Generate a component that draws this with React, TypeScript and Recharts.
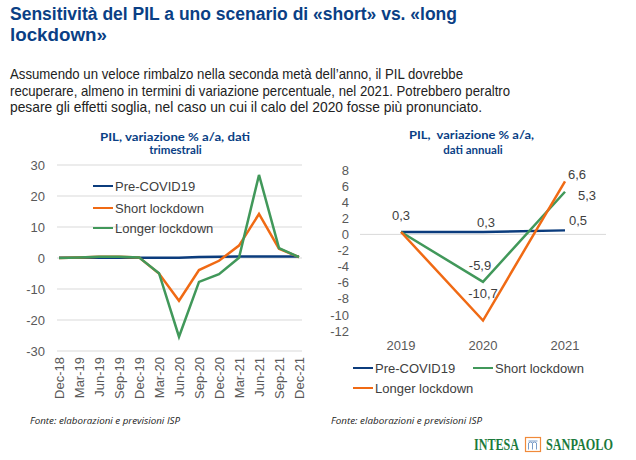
import React from 'react'
import { LineChart, Line, XAxis, YAxis, CartesianGrid, Legend, ReferenceLine, LabelList } from 'recharts'

// dati trimestrali (variazione % a/a)
const quarters = ['Dec-18', 'Mar-19', 'Jun-19', 'Sep-19', 'Dec-19', 'Mar-20', 'Jun-20', 'Sep-20', 'Dec-20', 'Mar-21', 'Jun-21', 'Sep-21', 'Dec-21']
const preCovidQ = [0.1, 0.1, 0.1, 0.1, 0.1, 0.1, 0.1, 0.3, 0.4, 0.5, 0.5, 0.5, 0.5]
const shortQ = [0, 0.2, 0.4, 0.4, 0.2, -5.0, -13.8, -3.9, -0.9, 4.0, 14.2, 3.0, 0.3]
const longerQ = [0, 0.2, 0.4, 0.4, 0.2, -4.9, -25.4, -7.7, -5.2, 0.1, 26.8, 3.2, 0.3]
const quarterTicks = [-30, -20, -10, 0, 10, 20, 30]

// dati annuali
const years = ['2019', '2020', '2021']
const preCovidY = [0.3, 0.3, 0.5]
const shortY = [0.3, -5.9, 5.3]
const longerY = [0.3, -10.7, 6.6]
const yearTicks = [-12, -10, -8, -6, -4, -2, 0, 2, 4, 6, 8]

const NAVY = '#0B3C7D'
const ORANGE = '#F06A14'
const GREEN = '#41985A'
const TITLE = '#0A3F85'
const AXIS_TXT = '#595959'
const FONT = '"Liberation Sans", Arial, sans-serif'

const quarterData = quarters.map((q, i) => ({ q, pre: preCovidQ[i], short: shortQ[i], longer: longerQ[i] }))
const yearData = years.map((y, i) => ({ y, pre: preCovidY[i], short: shortY[i], longer: longerY[i] }))

const RotTick = (props: any) => {
  const { x, y, payload } = props
  return (
    <text x={x} y={y} transform={`rotate(-90 ${x} ${y})`} textAnchor="end" dy="0.36em"
      fill={AXIS_TXT} fontSize={13} fontFamily={FONT}>
      {payload.value}
    </text>
  )
}

type LegItem = { label: string; color: string; x: number; y: number }

const legendBox = (items: LegItem[]) => () => (
  <div style={{ position: 'relative', width: 0, height: 0 }}>
    {items.map((it) => (
      <div key={it.label} style={{ position: 'absolute', left: it.x, top: it.y - 9, height: 18, display: 'flex', alignItems: 'center', whiteSpace: 'nowrap' }}>
        <span style={{ display: 'inline-block', width: 20, height: 2.5, background: it.color, marginRight: 2 }} />
        <span style={{ fontFamily: FONT, fontSize: 13, color: '#404040' }}>{it.label}</span>
      </div>
    ))}
  </div>
)

// spostamenti delle etichette nel grafico annuale
const labelOffsets: Record<string, Record<number, [number, number]>> = {
  pre: { 0: [0, -17], 1: [3, -10], 2: [13, -10] },
  short: { 1: [-3, -17], 2: [22, 4] },
  longer: { 1: [0, -27], 2: [12, -7] },
}

const annualLabel = (key: string) => (props: any) => {
  const { x, y, value, index } = props
  const off = labelOffsets[key][index]
  if (!off) return null
  return (
    <text x={x + off[0]} y={y + off[1]} textAnchor="middle" dy="0.36em" fill="#404040" fontSize={13} fontFamily={FONT}>
      {String(value).replace('.', ',')}
    </text>
  )
}

export default function App() {
  return (
    <div style={{ position: 'absolute', left: 0, top: 0, width: 636, height: 460, background: '#fff', overflow: 'hidden' }}>
      <svg width={636} height={460} style={{ position: 'absolute', left: 0, top: 0 }}>
        <g fontFamily={FONT} fontWeight={700} fill={TITLE} fontSize={18.8}>
          <text x={10} y={19.5} textLength={447} lengthAdjust="spacingAndGlyphs">Sensitività del PIL a uno scenario di «short» vs. «long</text>
          <text x={10} y={40.5} textLength={97} lengthAdjust="spacingAndGlyphs">lockdown»</text>
        </g>
        <g fontFamily={FONT} fill="#222" fontSize={14.5}>
          <text x={10} y={79} textLength={453} lengthAdjust="spacingAndGlyphs">Assumendo un veloce rimbalzo nella seconda metà dell’anno, il PIL dovrebbe</text>
          <text x={10} y={95.5} textLength={500} lengthAdjust="spacingAndGlyphs">recuperare, almeno in termini di variazione percentuale, nel 2021. Potrebbero peraltro</text>
          <text x={10} y={112} textLength={472} lengthAdjust="spacingAndGlyphs">pesare gli effetti soglia, nel caso un cui il calo del 2020 fosse più pronunciato.</text>
        </g>
        <g fontFamily='Lato, sans-serif' fontWeight={700} fill={TITLE} fontSize={11.5} textAnchor="middle">
          <text x={175} y={141} textLength={150} lengthAdjust="spacingAndGlyphs">PIL, variazione % a/a, dati</text>
          <text x={175.5} y={153.5}>trimestrali</text>
          <text x={471.5} y={139} textLength={125} lengthAdjust="spacingAndGlyphs">{'PIL,\u00a0 variazione % a/a,'}</text>
          <text x={473} y={153.5}>dati annuali</text>
        </g>
        <g fontFamily='"Open Sans", sans-serif' fontStyle="italic" fill="#222" fontSize={9}>
          <text x={30} y={424} textLength={150} lengthAdjust="spacingAndGlyphs">Fonte: elaborazioni e previsioni ISP</text>
          <text x={331} y={424} textLength={151} lengthAdjust="spacingAndGlyphs">Fonte: elaborazioni e previsioni ISP</text>
        </g>
        <g fontFamily='"Liberation Serif", serif' fontWeight={700} fill="#1B7A3C" fontSize={12}
          transform="translate(0 450) scale(1 1.4) translate(0 -450)">
          <text x={474} y={450} textLength={45} lengthAdjust="spacingAndGlyphs">INTESA</text>
          <text x={546} y={450} textLength={67} lengthAdjust="spacingAndGlyphs">SANPAOLO</text>
        </g>
        <rect x={525.5} y={437.5} width={15} height={14} fill="#fff" stroke="#F08A3A" strokeWidth={1.2} />
        <path d="M528.5 449.5 V443 Q530.5 441 532.5 443 V449.5 M532.5 443 Q534.5 441 536.5 443 V449.5 M528.5 441 H537.5"
          fill="none" stroke="#7A9CC8" strokeWidth={1} />
      </svg>

      <div style={{ position: 'absolute', left: 0, top: 150 }}>
        <LineChart width={310} height={260} data={quarterData} margin={{ top: 15, right: 8, left: 0, bottom: 0 }}>
          <CartesianGrid vertical={false} stroke="#D9D9D9" />
          <XAxis dataKey="q" interval={0} axisLine={false} tickLine={false} height={59}
            padding={{ left: 2, right: 3 }} tick={<RotTick />} tickMargin={0} />
          <YAxis domain={[-30, 30]} ticks={quarterTicks} interval={0} width={57} axisLine={false} tickLine={false}
            tickMargin={6} tick={{ fill: AXIS_TXT, fontSize: 13, fontFamily: FONT }} />
          <Legend layout="horizontal" verticalAlign="middle" align="center"
            wrapperStyle={{ left: 0, top: 0, width: 0, height: 0 }}
            content={legendBox([
              { label: 'Pre-COVID19', color: NAVY, x: 93, y: 36 },
              { label: 'Short lockdown', color: ORANGE, x: 93, y: 58 },
              { label: 'Longer lockdown', color: GREEN, x: 93, y: 78 },
            ])} />
          <Line dataKey="pre" name="Pre-COVID19" stroke={NAVY} strokeWidth={2.5} dot={false} isAnimationActive={false} />
          <Line dataKey="short" name="Short lockdown" stroke={ORANGE} strokeWidth={2.5} dot={false} isAnimationActive={false} />
          <Line dataKey="longer" name="Longer lockdown" stroke={GREEN} strokeWidth={2.5} dot={false} isAnimationActive={false} />
        </LineChart>
      </div>

      <div style={{ position: 'absolute', left: 300, top: 150 }}>
        <LineChart width={316} height={261} data={yearData} margin={{ top: 20, right: 10, left: 0, bottom: 50 }}>
          <ReferenceLine y={0} stroke="#D9D9D9" />
          <XAxis dataKey="y" axisLine={false} tickLine={false} height={30} interval={0}
            padding={{ left: 41, right: 41 }} tickMargin={4}
            tick={{ fill: AXIS_TXT, fontSize: 13, fontFamily: FONT }} />
          <YAxis domain={[-12, 8]} ticks={yearTicks} interval={0} width={60} axisLine={false} tickLine={false}
            tickMargin={5} tick={{ fill: AXIS_TXT, fontSize: 13, fontFamily: FONT }} />
          <Legend layout="horizontal" verticalAlign="middle" align="center"
            wrapperStyle={{ left: 0, top: 0, width: 0, height: 0 }}
            content={legendBox([
              { label: 'Pre-COVID19', color: NAVY, x: 53, y: 218 },
              { label: 'Short lockdown', color: GREEN, x: 173, y: 218 },
              { label: 'Longer lockdown', color: ORANGE, x: 53, y: 238 },
            ])} />
          <Line dataKey="pre" name="Pre-COVID19" stroke={NAVY} strokeWidth={2.5} dot={false} isAnimationActive={false}>
            <LabelList dataKey="pre" content={annualLabel('pre')} />
          </Line>
          <Line dataKey="short" name="Short lockdown" stroke={GREEN} strokeWidth={2.5} dot={false} isAnimationActive={false}>
            <LabelList dataKey="short" content={annualLabel('short')} />
          </Line>
          <Line dataKey="longer" name="Longer lockdown" stroke={ORANGE} strokeWidth={2.5} dot={false} isAnimationActive={false}>
            <LabelList dataKey="longer" content={annualLabel('longer')} />
          </Line>
        </LineChart>
      </div>
    </div>
  )
}
